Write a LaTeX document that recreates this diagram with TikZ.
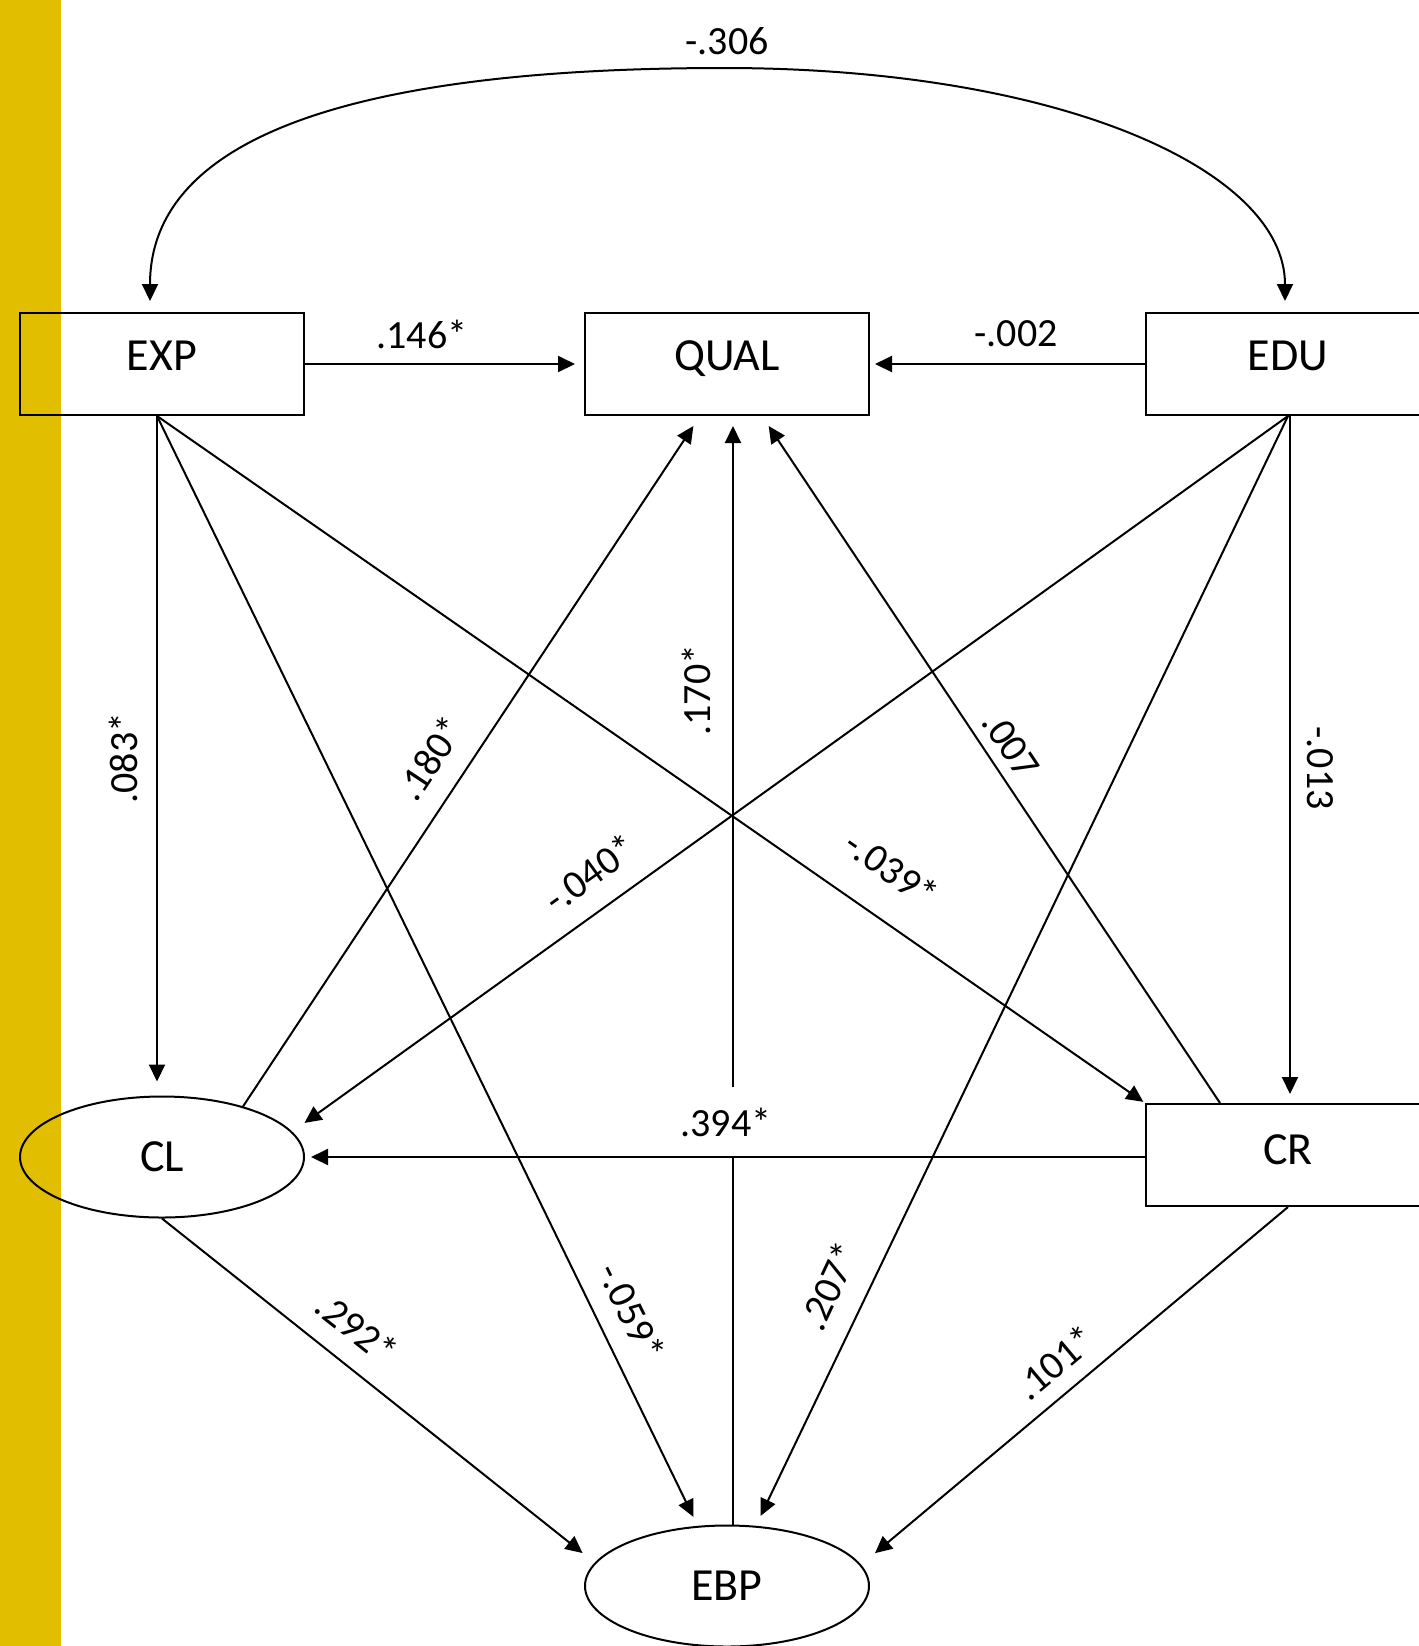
\documentclass[tikz,border=0pt]{standalone}
\usepackage{fontspec}
\setmainfont{Carlito}
\usetikzlibrary{arrows.meta,shapes.geometric}
\definecolor{barY}{RGB}{226,190,0}
\begin{document}
\begin{tikzpicture}[x=0.5pt,y=-0.5pt,
  box/.style={draw, line width=1pt, rectangle, minimum width=142pt, minimum height=51pt, inner sep=0pt, font=\fontsize{23}{28}\selectfont, text depth=8pt},
  oval/.style={draw, line width=1pt, ellipse, minimum width=142pt, minimum height=60.5pt, inner sep=0pt, font=\fontsize{23}{28}\selectfont},
  arr/.style={line width=1pt, -{Triangle[length=8.5pt,width=8pt]}},
  lbl/.style={font=\fontsize{20}{24}\selectfont, inner sep=1pt}]
\useasboundingbox (0,0) rectangle (1419,1646);
\clip (0,0) rectangle (1419,1646);
\fill[barY] (0,0) rectangle (61,1646);

% nodes
\node[box] (EXP) at (162,364) {EXP};
\node[box] (QUAL) at (727,364) {QUAL};
\node[box] (EDU) at (1288,364) {EDU};
\node[box, text depth=5.5pt] (CR) at (1288,1155) {CR};
\node[oval] (CL) at (162,1157) {CL};
\node[oval] (EBP) at (727,1586) {EBP};

\coordinate (EXPs) at ([xshift=-2.5pt]EXP.south);

% covariance curve
\draw[line width=1pt, {Triangle[length=8.5pt,width=8pt]}-{Triangle[length=8.5pt,width=8pt]}, shorten <=5.5pt, shorten >=5.5pt]
  ([xshift=-6pt]EXP.north) .. controls (150,150) and (320,68) .. (724,68)
  .. controls (1060,68) and (1285,170) .. ([xshift=-1.5pt]EDU.north);

% paths
\draw[arr, shorten >=4.5pt] (EXP.east) -- (QUAL.west);
\draw[arr, shorten >=2.5pt] (EDU.west) -- (QUAL.east);
\draw[arr, shorten >=7pt] (EXPs) -- (EXPs |- CL.north);
\draw[arr, shorten >=4.5pt] ([xshift=1pt]EDU.south) -- ([xshift=1pt]CR.north);
\draw[arr, shorten >=5pt] (EXPs) -- (EBP);
\draw[arr, shorten >=1pt] (EXPs) -- (CR.north west);
\draw[arr, shorten >=7.5pt] (EDU.south) -- (CL.11);
\draw[arr, shorten >=5.5pt] (EDU.south) -- (EBP);
\draw[arr, shorten >=6pt] (CL.32) -- ([xshift=-13.5pt]QUAL.south);
\draw[arr, shorten >=6pt] ([xshift=-34pt]CR.north) -- ([xshift=17.5pt]QUAL.south);
\draw[arr, shorten >=5pt] ([xshift=3pt]EBP.north) -- ([xshift=3pt]QUAL.south);
\node[lbl, fill=white, minimum height=35pt] (l394) at (726,1122) {.394*};
\draw[arr, shorten >=3pt] (CR.west |- CL.east) -- (CL.east);
\draw[arr, shorten >=7.75pt] (CL.south) -- (EBP.170);
\draw[arr, shorten >=9pt] (CR.south) -- (EBP.9);

% labels
\node[lbl] (l306) at (727,41) {-.306};
\node[lbl] (l146) at (422,334) {.146*};
\node[lbl] (l002) at (1016,334) {-.002};
\node[lbl, rotate=90] (l083) at (123,758) {.083*};
\node[lbl, rotate=-90] (l013) at (1320,768) {-.013};
\node[lbl, rotate=56.4] (l180) at (430,758) {.180*};
\node[lbl, rotate=90] (l170) at (696,690) {.170*};
\node[lbl, rotate=-56.3] (l007) at (1011,745) {.007};
\node[lbl, rotate=35.7] (l040) at (590,873) {-.040*};
\node[lbl, rotate=-35] (l039) at (892,869) {-.039*};
\node[lbl, rotate=-38.4] (l292) at (357,1328) {.292*};
\node[lbl, rotate=-63.9] (l059) at (632,1312) {-.059*};
\node[lbl, rotate=64.8] (l207) at (829,1286) {.207*};
\node[lbl, rotate=40.1] (l101) at (1055,1362) {.101*};
\end{tikzpicture}
\end{document}
